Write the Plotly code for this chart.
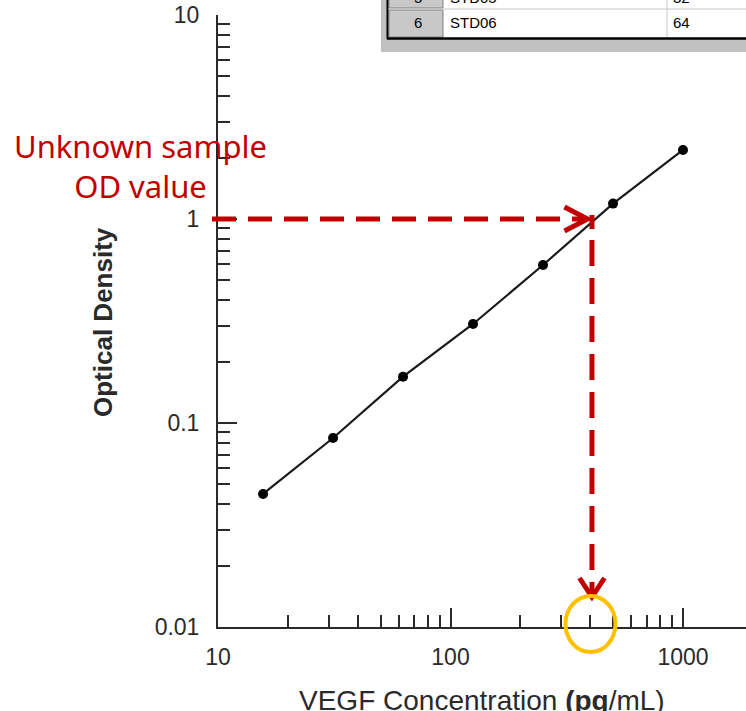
import numpy as np
import plotly.graph_objects as go

# ---------------- data ----------------
concentration = [15.625, 31.25, 62.5, 125, 250, 500, 1000]          # pg/mL
optical_density = [0.0449, 0.0844, 0.1686, 0.3057, 0.595, 1.19, 2.18]

x_tick_vals = [10, 100, 1000]
x_tick_text = ["10", "100", "1000"]
y_tick_vals = [0.01, 0.1, 1, 10]
y_tick_text = ["0.01", "0.1", "1", "10"]
x_minor = [20, 30, 40, 50, 60, 70, 80, 90, 200, 300, 400, 500, 600, 700, 800, 900]
y_minor = [0.02, 0.03, 0.04, 0.05, 0.06, 0.07, 0.08, 0.09,
           0.2, 0.3, 0.4, 0.5, 0.6, 0.7, 0.8, 0.9,
           2, 3, 4, 5, 6, 7, 8, 9]

unknown_od = 1.0
unknown_conc = 400
arrow_end_od = 0.01403

table_ids = ["5", "6"]
table_names = ["STD05", "STD06"]
table_values = ["32", "64"]

# ---------------- layout helpers ----------------
W, H = 746, 711
ML, MT = 218, 15
MB = H - 627
MR = 0
PW, PH = W - ML - MR, H - MT - MB
XDEC = 232.5                 # pixels per decade on x
XRANGE = [1.0, 1.0 + PW / XDEC]
YRANGE = [-2.0, 1.0]


def px(p):
    return (p - ML) / PW


def py(p):
    return (H - MB - p) / PH


def dx(v):   # data -> paper (x)
    return (np.log10(v) - XRANGE[0]) / (XRANGE[1] - XRANGE[0])


def dy(v):   # data -> paper (y)
    return (np.log10(v) - YRANGE[0]) / (YRANGE[1] - YRANGE[0])


RED = "#C00000"
ORANGE = "#FFC000"
AX = "#2a2a2a"
FONT = "Liberation Sans, Arial, sans-serif"

fig = go.Figure()
fig.add_trace(go.Scatter(
    x=concentration, y=optical_density, mode="lines+markers",
    line=dict(color="#1a1a1a", width=2.2),
    marker=dict(color="black", size=10),
    showlegend=False, cliponaxis=False, hoverinfo="skip",
))

shapes = []
annotations = []

# red dashed guide lines
shapes.append(dict(type="line", xref="paper", yref="paper",
                   x0=dx(10) - 6 / PW, x1=dx(unknown_conc) - 4 / PW,
                   y0=dy(unknown_od), y1=dy(unknown_od),
                   line=dict(color=RED, width=5, dash="24px,12px")))
shapes.append(dict(type="line", xref="paper", yref="paper",
                   x0=dx(unknown_conc) + 1.5 / PW, x1=dx(unknown_conc) + 1.5 / PW,
                   y0=dy(unknown_od) + 4 / PH, y1=dy(arrow_end_od) + 3 / PH,
                   line=dict(color=RED, width=5,
                             dash="14px,11px,26px,12px,26px,12px,26px,12px,26px,12px,26px,12px,26px,12px,26px,12px,26px,12px,26px,12px")))
# chevron heads
shapes.append(dict(type="path", xref="paper", yref="paper", xsizemode="pixel", ysizemode="pixel",
                   xanchor=dx(unknown_conc), yanchor=dy(unknown_od),
                   path="M -26 12 L -3 0 L -26 -12",
                   line=dict(color=RED, width=5)))
shapes.append(dict(type="path", xref="paper", yref="paper", xsizemode="pixel", ysizemode="pixel",
                   xanchor=dx(unknown_conc), yanchor=dy(arrow_end_od),
                   path="M -11 19 L 1.5 0 L 14 19",
                   line=dict(color=RED, width=5)))
# orange circle around the read-off concentration
shapes.append(dict(type="circle", xref="paper", yref="paper",
                   x0=dx(unknown_conc) - 25 / PW, x1=dx(unknown_conc) + 25 / PW,
                   y0=dy(0.01) - 25 / PH, y1=dy(0.01) + 31 / PH,
                   line=dict(color=ORANGE, width=4)))

# spreadsheet snippet (top right)
shapes.append(dict(type="rect", xref="paper", yref="paper",
                   x0=px(381), x1=px(770), y0=py(52), y1=py(-5),
                   line=dict(width=0), fillcolor="#C0C0C0", layer="above"))
shapes.append(dict(type="rect", xref="paper", yref="paper",
                   x0=px(388), x1=px(770), y0=py(38), y1=py(-5),
                   line=dict(width=0), fillcolor="white", layer="above"))
for top, bot in [(-5, 8), (10, 37)]:
    shapes.append(dict(type="rect", xref="paper", yref="paper",
                       x0=px(389), x1=px(443), y0=py(bot), y1=py(top),
                       line=dict(color="#808080", width=1), fillcolor="#C8C8C8", layer="above"))
shapes.append(dict(type="line", xref="paper", yref="paper",
                   x0=px(443), x1=px(770), y0=py(9), y1=py(9),
                   line=dict(color="#C8C8C8", width=1), layer="above"))
shapes.append(dict(type="line", xref="paper", yref="paper",
                   x0=px(667), x1=px(667), y0=py(38), y1=py(-5),
                   line=dict(color="#C8C8C8", width=1), layer="above"))
shapes.append(dict(type="line", xref="paper", yref="paper",
                   x0=px(387), x1=px(770), y0=py(38.5), y1=py(38.5),
                   line=dict(color="black", width=2.5), layer="above"))
shapes.append(dict(type="line", xref="paper", yref="paper",
                   x0=px(387.5), x1=px(387.5), y0=py(39), y1=py(-5),
                   line=dict(color="black", width=2), layer="above"))

row_centers = [-3, 23]
for rid, name, val, cy in zip(table_ids, table_names, table_values, row_centers):
    annotations.append(dict(xref="paper", yref="paper", x=px(418), y=py(cy),
                            text=rid, showarrow=False, xanchor="center", yanchor="middle",
                            font=dict(family=FONT, size=15, color="black")))
    annotations.append(dict(xref="paper", yref="paper", x=px(448), y=py(cy),
                            text=name, showarrow=False, xanchor="left", yanchor="middle",
                            font=dict(family=FONT, size=15, color="black")))
    annotations.append(dict(xref="paper", yref="paper", x=px(671), y=py(cy),
                            text=val, showarrow=False, xanchor="left", yanchor="middle",
                            font=dict(family=FONT, size=15, color="black")))

# texts
annotations.append(dict(xref="paper", yref="paper", x=px(140), y=py(166),
                        text="Unknown sample<br>OD value", showarrow=False,
                        xanchor="center", yanchor="middle", align="center",
                        font=dict(family="Noto Sans, sans-serif", size=31, color=RED)))
annotations.append(dict(xref="paper", yref="paper", x=px(482), y=py(700),
                        text="VEGF Concentration <b>(pg</b>/mL)", showarrow=False,
                        xanchor="center", yanchor="middle",
                        font=dict(family=FONT, size=28, color=AX)))
annotations.append(dict(xref="paper", yref="paper", x=px(103), y=py(322),
                        text="<b>Optical Density</b>", showarrow=False, textangle=-90,
                        xanchor="center", yanchor="middle",
                        font=dict(family=FONT, size=26, color=AX)))

axis_common = dict(
    type="log", showgrid=False, zeroline=False,
    showline=True, linewidth=2, linecolor=AX,
    ticks="inside", ticklen=19, tickwidth=2, tickcolor=AX,
    tickfont=dict(family=FONT, size=23, color=AX),
    tickmode="array", ticklabeloverflow="allow",
)

fig.update_layout(
    width=W, height=H,
    margin=dict(l=ML, r=MR, t=MT, b=MB, autoexpand=False),
    paper_bgcolor="white", plot_bgcolor="white",
    hovermode=False,
    xaxis=dict(**axis_common, range=XRANGE,
               tickvals=x_tick_vals, ticktext=x_tick_text, ticklabelstandoff=8,
               minor=dict(tickmode="array", tickvals=x_minor, ticks="inside",
                          ticklen=12, tickwidth=2, tickcolor=AX)),
    yaxis=dict(**axis_common, range=YRANGE,
               tickvals=y_tick_vals, ticktext=y_tick_text, ticklabelstandoff=12,
               minor=dict(tickmode="array", tickvals=y_minor, ticks="inside",
                          ticklen=12, tickwidth=2, tickcolor=AX)),
    shapes=shapes,
    annotations=annotations,
)

fig.write_html("out.html",
               config={"displayModeBar": False},
               post_script="document.body.style.margin='0';document.body.style.overflow='hidden';")
